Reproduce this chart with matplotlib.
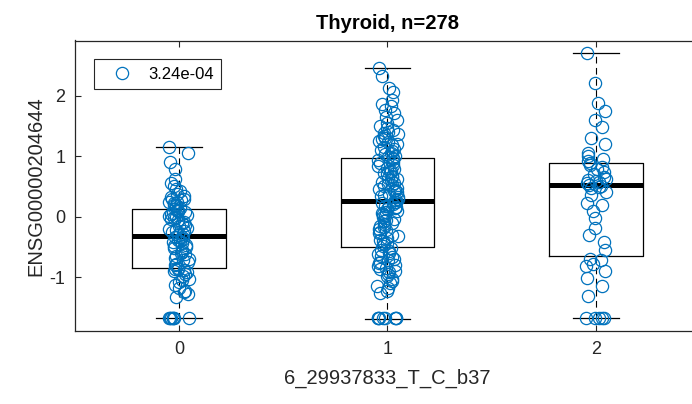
import numpy as np
import matplotlib.pyplot as plt

plt.rcParams['font.family'] = ['Liberation Sans', 'DejaVu Sans']
plt.rcParams['axes.unicode_minus'] = False

# genotype groups
labels = ['0', '1', '2']
x = [0, 1, 2]

# expression values per genotype
expr_0 = [-1.67, -1.67, -1.67, -1.67, -1.67, -1.67, -1.67,
          -1.32, -1.28, -1.25, -1.22, -1.18, -1.12, -1.08, -1.05, -1.02, -0.98,
          -0.95, -0.92, -0.90, -0.88, -0.87, -0.86,
          -0.84, -0.80, -0.78, -0.75, -0.72, -0.70, -0.68, -0.65, -0.62, -0.60,
          -0.58, -0.55, -0.52, -0.50, -0.48, -0.46, -0.44, -0.42, -0.40, -0.38,
          -0.36, -0.34, -0.33,
          -0.30, -0.28, -0.26, -0.24, -0.22, -0.20, -0.18, -0.15, -0.13, -0.10,
          -0.08, -0.06, -0.04, -0.02, 0.00, 0.02, 0.03, 0.05, 0.06, 0.08,
          0.09, 0.10, 0.11,
          0.13, 0.15, 0.17, 0.19, 0.20, 0.22, 0.24, 0.25, 0.27, 0.29,
          0.30, 0.33, 0.35, 0.38, 0.42, 0.46, 0.50, 0.55, 0.62, 0.78,
          0.90, 1.05, 1.15]
expr_1 = [-1.67, -1.67, -1.67, -1.67, -1.67, -1.67, -1.67, -1.67,
          -1.26, -1.22, -1.18, -1.15, -1.10, -1.06, -1.02, -0.98, -0.95, -0.92,
          -0.90, -0.87, -0.85, -0.82, -0.80, -0.77, -0.75, -0.72, -0.70, -0.67,
          -0.65, -0.62, -0.60, -0.57, -0.55, -0.52,
          -0.48, -0.45, -0.43, -0.40, -0.38, -0.35, -0.32, -0.30, -0.27, -0.25,
          -0.22, -0.20, -0.17, -0.15, -0.12, -0.10, -0.07, -0.05, -0.03, 0.00,
          0.02, 0.04, 0.06, 0.08, 0.10, 0.12, 0.14, 0.16, 0.18, 0.20,
          0.21, 0.23, 0.24, 0.25,
          0.28, 0.30, 0.32, 0.34, 0.36, 0.38, 0.40, 0.42, 0.44, 0.46,
          0.48, 0.50, 0.52, 0.54, 0.56, 0.58, 0.60, 0.62, 0.64, 0.66,
          0.68, 0.70, 0.72, 0.74, 0.76, 0.78, 0.80, 0.83, 0.86, 0.89,
          0.91, 0.93, 0.95, 0.97,
          0.99, 1.01, 1.03, 1.05, 1.08, 1.10, 1.12, 1.15, 1.18, 1.20,
          1.23, 1.25, 1.28, 1.30, 1.33, 1.36, 1.38, 1.40, 1.43, 1.47,
          1.50, 1.55, 1.60, 1.65, 1.71, 1.76, 1.82, 1.86, 1.93, 2.05,
          2.12, 2.32, 2.46]
expr_2 = [-1.67, -1.67, -1.67, -1.67, -1.67,
          -1.31, -1.15, -1.01, -0.90, -0.82, -0.78, -0.72, -0.69,
          -0.55, -0.41, -0.30, -0.19, -0.02, 0.10, 0.19, 0.22, 0.36, 0.40,
          0.47, 0.49, 0.51,
          0.53, 0.55, 0.57, 0.59, 0.61, 0.63, 0.66, 0.70, 0.74, 0.78,
          0.82, 0.85, 0.88,
          0.92, 0.95, 1.00, 1.05, 1.20, 1.30, 1.48, 1.60, 1.74, 1.87,
          2.21, 2.70]

# box statistics as drawn
q1 = [-0.85, -0.505, -0.65]
med = [-0.32, 0.26, 0.52]
q3 = [0.12, 0.975, 0.886]
whis_lo = [-1.67, -1.68, -1.67]
whis_hi = [1.155, 2.46, 2.70]

pval = '3.24e-04'
gene = 'ENSG00000204644'
snp = '6_29937833_T_C_b37'
title = 'Thyroid, n=278'

blue = '#0072BD'
dark = '#262626'

fig = plt.figure(figsize=(6.92, 4.04), dpi=100)
ax = fig.add_axes([75/692, 1 - 331/404, 625/692, 290.5/404])

stats = []
for i in range(3):
    stats.append(dict(med=med[i], q1=q1[i], q3=q3[i],
                      whislo=whis_lo[i], whishi=whis_hi[i], fliers=[]))
ax.bxp(stats, positions=x, widths=0.45, capwidths=0.22, showfliers=False,
       boxprops=dict(color='k', linewidth=0.9),
       whiskerprops=dict(color='k', linewidth=0.8, linestyle=(0, (6, 4))),
       capprops=dict(color='k', linewidth=0.9),
       medianprops=dict(color='k', linewidth=3.6, solid_capstyle='butt'),
       manage_ticks=False, zorder=2)

# jittered points (deterministic scatter around each genotype)
for i, vals in enumerate([expr_0, expr_1, expr_2]):
    k = np.arange(len(vals)) + 1 + 300 * i
    jit = ((np.sin(k * 78.233) * 43758.5453) % 1.0 - 0.5) * 0.1
    ax.plot(x[i] + jit, vals, 'o', mfc='none', mec=blue, ms=8.8, mew=0.9,
            label=pval if i == 0 else None, zorder=3)

ax.set_xlim(-0.5, 2.5)
ax.set_ylim(-1.886, 2.908)
ax.set_xticks(x)
ax.set_xticklabels(labels)
ax.set_yticks([-1, 0, 1, 2])
ax.tick_params(direction='in', top=True, right=True, length=4, width=0.8,
               labelsize=13, colors=dark, pad=7)
for s in ax.spines.values():
    s.set_color(dark)
    s.set_linewidth(0.9)

ax.set_xlabel(snp, fontsize=14.5, color=dark, labelpad=8)
ax.set_ylabel(gene, fontsize=14.5, color=dark, labelpad=3)
ax.set_title(title, fontsize=14.5, fontweight='bold', pad=8)

leg = ax.legend(loc='upper left', bbox_to_anchor=(0.0304, 0.936), borderaxespad=0,
                fontsize=12, fancybox=False, framealpha=1, handlelength=2.4,
                handletextpad=0.4, borderpad=0.45)
leg.get_frame().set_edgecolor(dark)
leg.get_frame().set_linewidth(0.8)

plt.savefig('out.png', dpi=100)
